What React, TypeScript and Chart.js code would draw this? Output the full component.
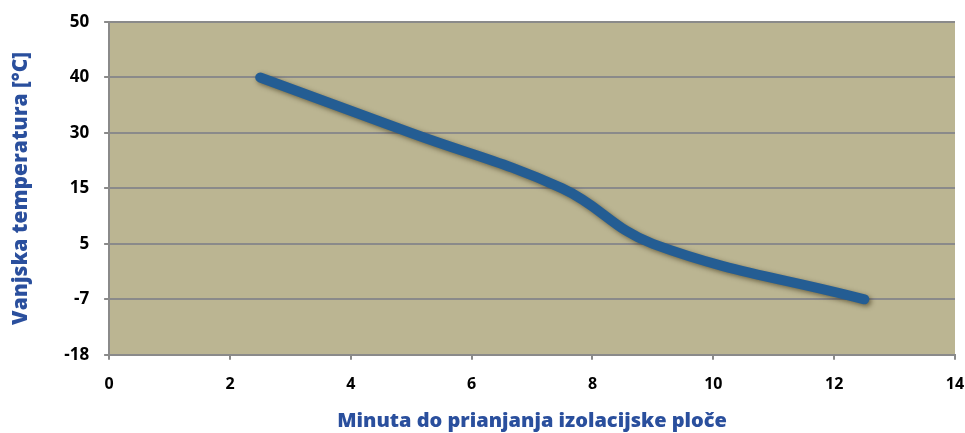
import React, { useEffect, useRef } from "react";
import { Chart, registerables } from "chart.js";

Chart.register(...registerables);

const minutes = [2.5, 5, 7.5, 9, 12.5];
const temperatures = [40, 30, 15, 5, -7];
const yTickLabels = ["-18", "-7", "5", "15", "30", "40", "50"];
const xTitle = "Minuta do prianjanja izolacijske ploče";
const yTitle = "Vanjska temperatura [°C]";

const plotBg = {
  id: "plotBg",
  beforeDraw(chart: any) {
    const { ctx, chartArea } = chart;
    ctx.save();
    ctx.fillStyle = "#bbb592";
    ctx.fillRect(chartArea.left, chartArea.top, chartArea.right - chartArea.left, chartArea.bottom - chartArea.top);
    ctx.restore();
  },
};

const lineShadow = {
  id: "lineShadow",
  beforeDatasetsDraw(chart: any) {
    const ctx = chart.ctx;
    ctx.save();
    ctx.shadowColor = "rgba(40,30,0,0.55)";
    ctx.shadowBlur = 5;
    ctx.shadowOffsetX = 2;
    ctx.shadowOffsetY = 2;
  },
  afterDatasetsDraw(chart: any) {
    chart.ctx.restore();
  },
};

const FONT = "'Open Sans', sans-serif";

export default function App() {
  const ref = useRef<HTMLCanvasElement | null>(null);
  useEffect(() => {
    document.body.style.margin = "0";
    const data = minutes.map((m, i) => ({ x: m, y: yTickLabels.indexOf(String(temperatures[i])) }));
    const chart = new Chart(ref.current as HTMLCanvasElement, {
      type: "line",
      data: {
        datasets: [
          {
            data,
            borderColor: "#245d93",
            borderWidth: 10,
            borderCapStyle: "round",
            borderJoinStyle: "round",
            pointRadius: 0,
            tension: 0.4,
            fill: false,
          },
        ],
      },
      options: {
        animation: false,
        responsive: true,
        maintainAspectRatio: false,
        layout: { padding: { left: 8, right: 10, top: 22, bottom: 0 } },
        plugins: { legend: { display: false }, tooltip: { enabled: false } },
        scales: {
          x: {
            type: "linear",
            min: 0,
            max: 14,
            afterFit: (scale: any) => {
              scale.paddingRight = 0;
            },
            ticks: {
              stepSize: 2,
              color: "#000",
              padding: 15,
              font: { family: FONT, weight: "bold", size: 16 },
            },
            grid: { drawOnChartArea: false, drawTicks: true, tickLength: 5, color: "#8a8a8a", lineWidth: 2 },
            border: { color: "#8a8a8a", width: 2 },
            title: {
              display: true,
              text: xTitle,
              color: "#2a4f9d",
              padding: { top: 0, bottom: 0 },
              font: { family: FONT, weight: "800", size: 20 },
            },
          },
          y: {
            type: "linear",
            min: 0,
            max: 6,
            afterFit: (scale: any) => {
              scale.paddingTop = 0;
              scale.paddingBottom = 0;
            },
            ticks: {
              stepSize: 1,
              color: "#000",
              padding: 15,
              font: { family: FONT, weight: "bold", size: 17 },
              callback: (v: any) => yTickLabels[Number(v)] ?? "",
            },
            grid: { color: "#8a8a8a", lineWidth: 2, tickLength: 5 },
            border: { color: "#8a8a8a", width: 2 },
            title: {
              display: true,
              text: yTitle,
              color: "#2a4f9d",
              padding: { top: 0, bottom: 16 },
              font: { family: FONT, weight: "800", size: 21 },
            },
          },
        },
      },
      plugins: [plotBg, lineShadow],
    });
    return () => chart.destroy();
  }, []);
  return (
    <div style={{ width: 965, height: 433, position: "relative" }}>
      <canvas ref={ref} />
    </div>
  );
}
